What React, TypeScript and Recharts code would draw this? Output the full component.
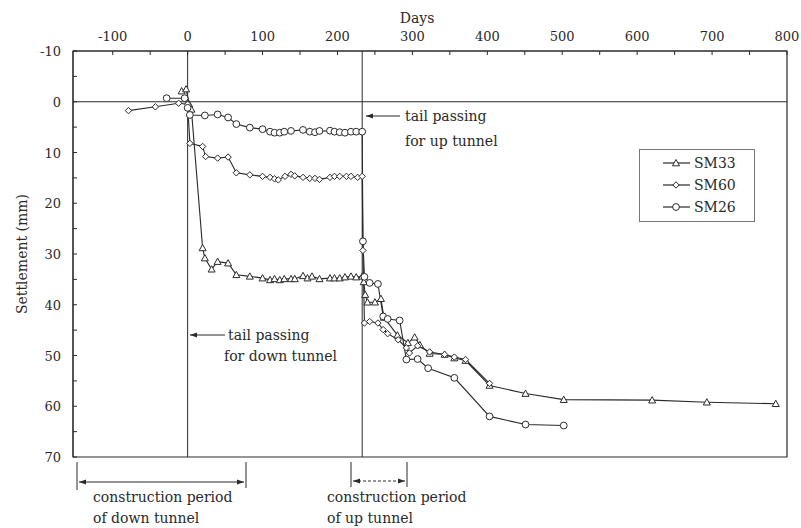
import React from "react";
import { LineChart, Line, XAxis, YAxis, ReferenceLine, ReferenceArea, Legend } from "recharts";

// days, settlement (mm)
const sm33: [number, number][] = [
  [-8, -2.1], [-2, -2.5], [2, 0.5], [5, 1.5], [20, 28.8], [23, 30.8], [32, 33], [40, 31.5],
  [54, 31.8], [65, 34.1], [83, 34.4], [100, 34.75], [110, 35.1], [116, 34.9], [123, 35.1],
  [129, 34.9], [138, 34.9], [143, 34.9], [154, 34.3], [160, 34.75], [166, 34.4], [176, 34.9],
  [190, 34.75], [196, 34.75], [203, 34.75], [210, 34.55], [218, 34.4], [225, 34.55], [233, 34.4],
  [235, 35.5], [237, 38], [240, 39.5], [250, 39.5], [258, 38.8], [262, 42.5], [280, 46],
  [294, 47.5], [303, 46.4], [310, 47.9], [323, 49.6], [343, 49.8], [356, 50.5], [371, 51],
  [403, 55.9], [451, 57.5], [502, 58.7], [620, 58.8], [693, 59.2], [785, 59.5],
];
const sm60: [number, number][] = [
  [-79, 1.75], [-43, 1.0], [-12, 0.3], [0, 0.5], [3, 8.2], [20, 8.8], [24, 10.8], [40, 11.1],
  [54, 10.9], [65, 14], [83, 14.4], [100, 14.7], [110, 14.9], [116, 15.2], [121, 15.4],
  [130, 14.7], [138, 14.3], [143, 14.6], [154, 14.9], [163, 15.1], [170, 15.1], [176, 15.3],
  [190, 14.9], [196, 14.7], [203, 14.7], [212, 14.7], [218, 14.7], [227, 14.9], [233, 14.7],
  [234, 29.3], [236, 43.6], [243, 43.3], [254, 43.6], [261, 44.9], [267, 45.7], [281, 46.9],
  [292, 48.5], [296, 49.5], [307, 48.1], [323, 49.3], [343, 49.8], [356, 50.3], [371, 50.8],
  [403, 55.5],
];
const sm26: [number, number][] = [
  [-28, -0.7], [-4, -0.7], [0, 1.2], [3, 2.6], [23, 2.7], [40, 2.5], [54, 3.1], [65, 4.4],
  [83, 5.1], [100, 5.4], [110, 5.9], [116, 6.1], [123, 6.1], [129, 5.9], [138, 5.75],
  [154, 5.55], [163, 5.9], [170, 6.0], [176, 5.75], [190, 5.7], [196, 5.9], [203, 6.0],
  [210, 6.1], [218, 5.9], [225, 5.9], [233, 5.9], [234, 27.5], [236, 34.5], [243, 35.7],
  [254, 35.9], [261, 42.3], [267, 42.8], [283, 43.1], [292, 50.8], [307, 50.7], [321, 52.5],
  [356, 54.4], [403, 62], [451, 63.6], [502, 63.8],
];

const xTicks = [-100, -50, 0, 50, 100, 150, 200, 250, 300, 350, 400, 450, 500, 550, 600, 650, 700, 750, 800];
const yTicks = [-10, -5, 0, 5, 10, 15, 20, 25, 30, 35, 40, 45, 50, 55, 60, 65, 70];
const tailDays = [0, 233];

const toRows = (pts: [number, number][]) => pts.map(([x, y]) => ({ x, y }));

const INK = "#2a2a2a";
const FONT = "'DejaVu Serif', serif";
const PL = 73;
const PT = 51;

const Tri = ({ cx, cy }: any) => (
  <path d={`M${cx},${cy - 3.5} L${cx + 3.5},${cy + 2.8} L${cx - 3.5},${cy + 2.8} Z`} fill="#fff" stroke={INK} strokeWidth={1} />
);
const Dia = ({ cx, cy }: any) => (
  <path d={`M${cx},${cy - 3.2} L${cx + 3.2},${cy} L${cx},${cy + 3.2} L${cx - 3.2},${cy} Z`} fill="#fff" stroke={INK} strokeWidth={1} />
);
const Circ = ({ cx, cy }: any) => <circle cx={cx} cy={cy} r={3.4} fill="#fff" stroke={INK} strokeWidth={1} />;

const shapes: Record<string, any> = { SM33: Tri, SM60: Dia, SM26: Circ };

const series = [
  { name: "SM33", data: sm33 },
  { name: "SM60", data: sm60 },
  { name: "SM26", data: sm26 },
];

const TopTick = ({ x, payload }: any) => (
  <g>
    <line x1={x} x2={x} y1={PT} y2={PT + 4} stroke={INK} />
    {payload.value % 100 === 0 && (
      <text x={x} y={PT - 10} textAnchor="middle" fontFamily={FONT} fontSize={13} fill={INK}>
        {payload.value}
      </text>
    )}
  </g>
);

const LeftTick = ({ y, payload }: any) => (
  <g>
    <line x1={PL} x2={PL + 4} y1={y} y2={y} stroke={INK} />
    {payload.value % 10 === 0 && (
      <text x={PL - 12} y={y + 5} textAnchor="end" fontFamily={FONT} fontSize={13} fill={INK}>
        {payload.value}
      </text>
    )}
  </g>
);

const LegendBox = () => (
  <div style={{ border: `1px solid #777`, padding: "2px 0 3px 22px", background: "#fff" }}>
    {series.map((s) => {
      const S = shapes[s.name];
      return (
        <div key={s.name} style={{ display: "flex", alignItems: "center", height: 22 }}>
          <svg width={30} height={12}>
            <line x1={1} x2={28} y1={6} y2={6} stroke={INK} strokeWidth={1.2} />
            <S cx={14} cy={6} />
          </svg>
          <span style={{ fontFamily: FONT, fontSize: 14, color: INK, marginLeft: 2 }}>{s.name}</span>
        </div>
      );
    })}
  </div>
);

export default function App() {
  return (
    <div style={{ position: "relative", width: 801, height: 528, background: "#fff" }}>
      <style>{`body{margin:0}`}</style>
      <LineChart width={801} height={528} margin={{ top: 8, right: 14, bottom: 71, left: 0 }}>
        <XAxis
          xAxisId={0}
          type="number"
          dataKey="x"
          orientation="top"
          domain={[-153, 800]}
          allowDataOverflow
          ticks={xTicks}
          interval={0}
          height={43}
          tick={<TopTick />}
          tickLine={false}
          axisLine={{ stroke: INK }}
        />
        <YAxis
          yAxisId={0}
          type="number"
          dataKey="y"
          reversed
          domain={[-10, 70]}
          allowDataOverflow
          ticks={yTicks}
          interval={0}
          width={73}
          tick={<LeftTick />}
          tickLine={false}
          axisLine={{ stroke: INK }}
        />
        <ReferenceArea x1={-153} x2={800} y1={-10} y2={70} fill="none" stroke={INK} strokeWidth={1.2} />
        <ReferenceLine y={0} stroke={INK} strokeWidth={1} />
        {tailDays.map((d) => (
          <ReferenceLine key={d} x={d} stroke={INK} strokeWidth={1} />
        ))}
        {series.map((s) => {
          const S = shapes[s.name];
          return (
            <Line
              key={s.name}
              name={s.name}
              data={toRows(s.data)}
              dataKey="y"
              stroke={INK}
              strokeWidth={1.1}
              isAnimationActive={false}
              dot={(p: any) => <S key={`${s.name}-${p.index}`} cx={p.cx} cy={p.cy} />}
            />
          );
        })}
        <Legend
          layout="vertical"
          align="center"
          verticalAlign="middle"
          content={<LegendBox />}
          wrapperStyle={{ left: 639, top: 149, width: 116 }}
        />
      </LineChart>
      <svg width={801} height={528} style={{ position: "absolute", left: 0, top: 0, pointerEvents: "none" }}>
        <defs>
          <marker id="ah" viewBox="0 0 10 10" refX={10} refY={5} markerWidth={7} markerHeight={7} orient="auto-start-reverse">
            <path d="M0,1.5 L10,5 L0,8.5 Z" fill={INK} />
          </marker>
        </defs>
        <g fontFamily={FONT} fontSize={14} fill={INK}>
          <text x={417} y={23} textAnchor="middle">Days</text>
          <text transform="translate(27,254) rotate(-90)" textAnchor="middle">Settlement (mm)</text>

          <line x1={400} x2={366} y1={116} y2={116} stroke={INK} markerEnd="url(#ah)" />
          <text x={405} y={121}>tail passing</text>
          <text x={405} y={146}>for up tunnel</text>

          <line x1={225} x2={190} y1={335} y2={335} stroke={INK} markerEnd="url(#ah)" />
          <text x={228} y={340}>tail passing</text>
          <text x={224} y={361}>for down tunnel</text>

          <line x1={77} x2={77} y1={462} y2={490} stroke={INK} />
          <line x1={246} x2={246} y1={462} y2={488} stroke={INK} />
          <line x1={79} x2={244} y1={482} y2={482} stroke={INK} markerStart="url(#ah)" markerEnd="url(#ah)" />
          <text x={93} y={502}>construction period</text>
          <text x={93} y={523}>of down tunnel</text>

          <line x1={351} x2={351} y1={462} y2={487} stroke={INK} />
          <line x1={407} x2={407} y1={462} y2={487} stroke={INK} />
          <line x1={353} x2={405} y1={481} y2={481} stroke={INK} strokeDasharray="3 2" markerStart="url(#ah)" markerEnd="url(#ah)" />
          <text x={327} y={502}>construction period</text>
          <text x={327} y={523}>of up tunnel</text>
        </g>
      </svg>
    </div>
  );
}
